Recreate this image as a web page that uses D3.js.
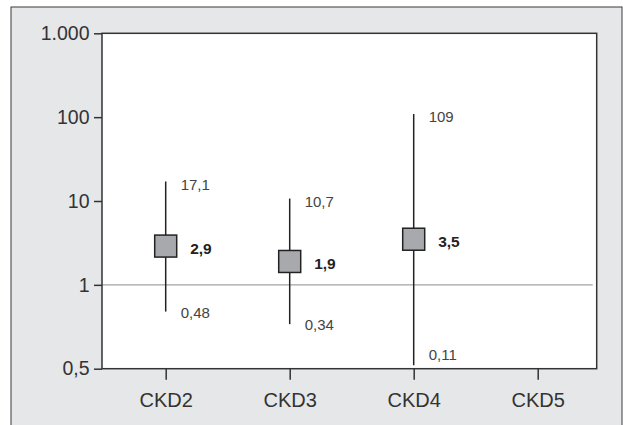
<!DOCTYPE html>
<html>
<head>
<meta charset="utf-8">
<script src="https://cdn.jsdelivr.net/npm/d3@7"></script>
<style>
  html, body { margin: 0; padding: 0; background: #ffffff; }
  svg { display: block; }
  text { font-family: "Liberation Sans", Arial, Helvetica, sans-serif; }
</style>
</head>
<body>
<svg id="chart" width="623" height="425"></svg>
<script>
// ---- data ----
const categories = ["CKD2", "CKD3", "CKD4", "CKD5"];
const estimates  = [2.9, 1.9, 3.5, null];
const lowerCI    = [0.48, 0.34, 0.11, null];
const upperCI    = [17.1, 10.7, 109, null];
const estimateLabels = ["2,9", "1,9", "3,5", ""];
const lowerLabels    = ["0,48", "0,34", "0,11", ""];
const upperLabels    = ["17,1", "10,7", "109", ""];
const yTickValues = [0.1, 1, 10, 100, 1000];
const yTickLabels = ["0,5", "1", "10", "100", "1.000"];
const referenceValue = 1;

// ---- layout ----
const W = 623, H = 425;
const plot = { left: 102, top: 33.3, right: 596.7, bottom: 368.7 };
const svg = d3.select("#chart");

// outer frame
svg.append("rect")
  .attr("x", 11).attr("y", 7).attr("width", 611).attr("height", 425)
  .attr("fill", "#e6e7e8").attr("stroke", "#3a3a3a").attr("stroke-width", 1);

// plot background
svg.append("rect")
  .attr("x", plot.left).attr("y", plot.top)
  .attr("width", plot.right - plot.left).attr("height", plot.bottom - plot.top)
  .attr("fill", "#ffffff");

const x = d3.scalePoint().domain(categories).range([165.7, 537.7]);
const y = d3.scaleLog().domain([0.1, 1000]).range([plot.bottom, plot.top]);

// reference line
svg.append("line")
  .attr("x1", plot.left).attr("x2", plot.right - 4)
  .attr("y1", y(referenceValue)).attr("y2", y(referenceValue))
  .attr("stroke", "#a3a3a3").attr("stroke-width", 1.3);

// y axis
const yAxis = d3.axisLeft(y)
  .tickValues(yTickValues)
  .tickFormat((d, i) => yTickLabels[i])
  .tickSize(8).tickPadding(4.5);
const gy = svg.append("g").attr("transform", `translate(${plot.left},0)`).call(yAxis);
gy.select(".domain").remove();
gy.selectAll(".tick line").attr("stroke", "#333").attr("stroke-width", 1.5);
gy.selectAll(".tick text")
  .attr("fill", "#333").style("font-size", "19.5px").attr("font-family", null);

// x axis
const xAxis = d3.axisBottom(x).tickSize(11).tickPadding(0);
const gx = svg.append("g").attr("transform", `translate(0,${plot.bottom})`).call(xAxis);
gx.select(".domain").remove();
gx.selectAll(".tick line").attr("stroke", "#333").attr("stroke-width", 1.5);
gx.selectAll(".tick text")
  .attr("fill", "#333").style("font-size", "20px").attr("font-family", null)
  .attr("y", 38).attr("dy", 0);

// plot border
svg.append("rect")
  .attr("x", plot.left).attr("y", plot.top)
  .attr("width", plot.right - plot.left).attr("height", plot.bottom - plot.top)
  .attr("fill", "none").attr("stroke", "#333").attr("stroke-width", 1.5);

// data
const rows = categories.map((c, i) => ({
  cat: c, est: estimates[i], lo: lowerCI[i], hi: upperCI[i],
  estLabel: estimateLabels[i], loLabel: lowerLabels[i], hiLabel: upperLabels[i]
})).filter(d => d.est != null);

const g = svg.append("g");
const box = 22;

g.selectAll("line.whisker").data(rows).join("line")
  .attr("class", "whisker")
  .attr("x1", d => x(d.cat)).attr("x2", d => x(d.cat))
  .attr("y1", d => y(d.hi)).attr("y2", d => y(d.lo))
  .attr("stroke", "#222").attr("stroke-width", 1.5);

g.selectAll("rect.est").data(rows).join("rect")
  .attr("class", "est")
  .attr("x", d => x(d.cat) - box / 2).attr("y", d => y(d.est) - box / 2)
  .attr("width", box).attr("height", box)
  .attr("fill", "#a7a9ac").attr("stroke", "#222").attr("stroke-width", 1.5);

g.selectAll("text.hi").data(rows).join("text")
  .attr("class", "hi")
  .attr("x", d => x(d.cat) + 15).attr("y", d => y(d.hi) + 3)
  .attr("dy", "0.35em")
  .attr("fill", "#444").style("font-size", "15px")
  .text(d => d.hiLabel);

g.selectAll("text.lo").data(rows).join("text")
  .attr("class", "lo")
  .attr("x", d => x(d.cat) + 15).attr("y", d => Math.min(y(d.lo) + 1, plot.bottom - 14))
  .attr("dy", "0.35em")
  .attr("fill", "#444").style("font-size", "15px")
  .text(d => d.loLabel);

g.selectAll("text.estl").data(rows).join("text")
  .attr("class", "estl")
  .attr("x", d => x(d.cat) + 24.5).attr("y", d => y(d.est) + 2.5)
  .attr("dy", "0.35em")
  .attr("fill", "#222").style("font-size", "15.5px").style("font-weight", "bold")
  .text(d => d.estLabel);
</script>
</body>
</html>
